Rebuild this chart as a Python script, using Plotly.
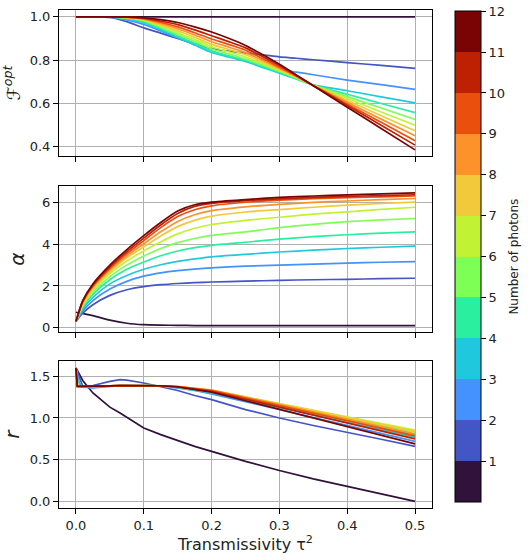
import plotly.graph_objects as go

# ---------------- data ----------------
N_PHOTONS = list(range(1, 13))
COLORS = ["#30123b", "#4455c5", "#4392fe", "#20c8de", "#2aef9f", "#7eff55",
          "#c2f234", "#f2c93a", "#fe922a", "#ea4f0d", "#be2102", "#7a0403"]

X_F = [0, 0.025, 0.05, 0.075, 0.1, 0.125, 0.15, 0.175, 0.2, 0.225, 0.25, 0.275,
       0.3, 0.325, 0.35, 0.4, 0.45, 0.5]
F_OPT = [
    [1, 1, 1, 1, 1, 1, 1, 1, 1, 1, 1, 1, 1, 1, 1, 1, 1, 1],
    [1, 1, 0.997, 0.978, 0.949, 0.925, 0.900, 0.876, 0.853, 0.842, 0.833, 0.825, 0.815, 0.809, 0.802, 0.789, 0.776, 0.762],
    [1, 1, 0.999, 0.986, 0.965, 0.935, 0.903, 0.872, 0.842, 0.818, 0.797, 0.776, 0.757, 0.745, 0.733, 0.708, 0.687, 0.665],
    [1, 1, 1, 0.990, 0.973, 0.940, 0.905, 0.870, 0.836, 0.815, 0.794, 0.767, 0.740, 0.713, 0.686, 0.659, 0.631, 0.603],
    [1, 1, 1, 0.993, 0.978, 0.946, 0.912, 0.878, 0.842, 0.820, 0.800, 0.772, 0.743, 0.714, 0.685, 0.643, 0.600, 0.558],
    [1, 1, 1, 0.995, 0.982, 0.952, 0.920, 0.887, 0.852, 0.829, 0.805, 0.778, 0.749, 0.718, 0.685, 0.632, 0.579, 0.526],
    [1, 1, 1, 0.996, 0.985, 0.958, 0.928, 0.896, 0.862, 0.839, 0.815, 0.785, 0.753, 0.720, 0.684, 0.623, 0.561, 0.500],
    [1, 1, 1, 0.997, 0.988, 0.963, 0.936, 0.906, 0.873, 0.850, 0.825, 0.792, 0.758, 0.722, 0.684, 0.614, 0.544, 0.474],
    [1, 1, 1, 0.998, 0.990, 0.970, 0.945, 0.916, 0.885, 0.861, 0.835, 0.800, 0.763, 0.725, 0.683, 0.606, 0.528, 0.451],
    [1, 1, 1, 0.999, 0.992, 0.975, 0.954, 0.927, 0.898, 0.873, 0.846, 0.808, 0.768, 0.727, 0.683, 0.598, 0.513, 0.428],
    [1, 1, 1, 0.999, 0.994, 0.981, 0.964, 0.940, 0.913, 0.886, 0.857, 0.817, 0.775, 0.729, 0.682, 0.591, 0.500, 0.408],
    [1, 1, 1, 1.000, 0.996, 0.987, 0.974, 0.954, 0.930, 0.901, 0.868, 0.826, 0.781, 0.732, 0.682, 0.583, 0.485, 0.386],
]

X_ALPHA = [0, 0.01, 0.025, 0.05, 0.075, 0.1, 0.125, 0.15, 0.175, 0.2, 0.25, 0.3, 0.35, 0.4, 0.45, 0.5]
ALPHA = [
    [0.74, 0.68, 0.58, 0.36, 0.21, 0.14, 0.12, 0.11, 0.10, 0.10, 0.10, 0.10, 0.10, 0.10, 0.10, 0.10],
    [0.3, 0.70, 1.10, 1.55, 1.82, 1.97, 2.06, 2.12, 2.16, 2.19, 2.23, 2.27, 2.30, 2.32, 2.35, 2.37],
    [0.3, 0.80, 1.30, 1.85, 2.22, 2.47, 2.63, 2.74, 2.81, 2.87, 2.95, 3.00, 3.05, 3.10, 3.14, 3.17],
    [0.3, 0.90, 1.45, 2.10, 2.50, 2.80, 3.02, 3.18, 3.30, 3.40, 3.52, 3.63, 3.72, 3.80, 3.86, 3.91],
    [0.3, 1.00, 1.60, 2.30, 2.80, 3.15, 3.45, 3.68, 3.84, 3.95, 4.10, 4.25, 4.37, 4.46, 4.54, 4.60],
    [0.3, 1.05, 1.70, 2.45, 3.00, 3.44, 3.80, 4.08, 4.28, 4.43, 4.60, 4.80, 4.96, 5.09, 5.17, 5.24],
    [0.3, 1.10, 1.80, 2.60, 3.20, 3.68, 4.12, 4.50, 4.77, 4.95, 5.15, 5.30, 5.45, 5.56, 5.68, 5.78],
    [0.3, 1.15, 1.90, 2.70, 3.35, 3.88, 4.40, 4.85, 5.15, 5.35, 5.55, 5.67, 5.78, 5.88, 5.96, 6.03],
    [0.3, 1.20, 1.95, 2.78, 3.45, 4.03, 4.60, 5.10, 5.42, 5.62, 5.80, 5.92, 6.01, 6.08, 6.15, 6.20],
    [0.3, 1.25, 2.00, 2.85, 3.55, 4.18, 4.80, 5.33, 5.66, 5.85, 6.02, 6.12, 6.19, 6.24, 6.28, 6.32],
    [0.3, 1.28, 2.05, 2.92, 3.65, 4.30, 4.93, 5.48, 5.82, 5.97, 6.10, 6.18, 6.25, 6.30, 6.34, 6.38],
    [0.3, 1.30, 2.10, 3.00, 3.75, 4.42, 5.05, 5.60, 5.90, 6.03, 6.15, 6.25, 6.32, 6.37, 6.42, 6.47],
]

X_R = [0, 0.002, 0.005, 0.01, 0.025, 0.05, 0.065, 0.075, 0.1, 0.125, 0.15, 0.175, 0.2,
       0.25, 0.3, 0.35, 0.4, 0.45, 0.5]
R_VALS = [
    [1.60, 1.57, 1.52, 1.45, 1.30, 1.13, 1.06, 1.01, 0.88, 0.80, 0.73, 0.66, 0.60, 0.48, 0.37, 0.27, 0.18, 0.09, 0.00],
    [1.60, 1.56, 1.48, 1.38, 1.39, 1.44, 1.46, 1.455, 1.42, 1.375, 1.33, 1.27, 1.22, 1.10, 1.00, 0.91, 0.83, 0.745, 0.66],
    [1.60, 1.52, 1.42, 1.37, 1.36, 1.38, 1.39, 1.39, 1.39, 1.385, 1.36, 1.33, 1.29, 1.195, 1.10, 1.005, 0.91, 0.815, 0.72],
    [1.60, 1.48, 1.40, 1.37, 1.37, 1.385, 1.39, 1.39, 1.39, 1.385, 1.365, 1.335, 1.30, 1.212, 1.123, 1.035, 0.947, 0.858, 0.77],
    [1.60, 1.45, 1.38, 1.375, 1.38, 1.385, 1.39, 1.39, 1.39, 1.385, 1.37, 1.34, 1.31, 1.225, 1.14, 1.055, 0.97, 0.885, 0.80],
    [1.60, 1.42, 1.38, 1.38, 1.385, 1.385, 1.39, 1.39, 1.39, 1.385, 1.372, 1.35, 1.32, 1.238, 1.157, 1.075, 0.993, 0.912, 0.83],
    [1.60, 1.40, 1.38, 1.38, 1.385, 1.385, 1.39, 1.39, 1.39, 1.387, 1.375, 1.355, 1.33, 1.251, 1.172, 1.093, 1.013, 0.934, 0.855],
    [1.60, 1.39, 1.38, 1.38, 1.385, 1.385, 1.39, 1.39, 1.39, 1.387, 1.377, 1.358, 1.335, 1.253, 1.17, 1.088, 1.005, 0.923, 0.84],
    [1.60, 1.385, 1.38, 1.38, 1.385, 1.385, 1.39, 1.39, 1.39, 1.387, 1.377, 1.358, 1.335, 1.248, 1.16, 1.073, 0.985, 0.898, 0.81],
    [1.60, 1.38, 1.38, 1.38, 1.385, 1.385, 1.39, 1.39, 1.39, 1.387, 1.377, 1.355, 1.33, 1.239, 1.148, 1.058, 0.967, 0.876, 0.785],
    [1.60, 1.38, 1.38, 1.38, 1.385, 1.385, 1.39, 1.39, 1.39, 1.387, 1.375, 1.35, 1.32, 1.225, 1.13, 1.035, 0.94, 0.845, 0.75],
    [1.60, 1.38, 1.38, 1.38, 1.385, 1.385, 1.39, 1.39, 1.39, 1.387, 1.372, 1.345, 1.31, 1.207, 1.103, 1.00, 0.897, 0.793, 0.69],
]

X_TICKS = [0.0, 0.1, 0.2, 0.3, 0.4, 0.5]

# ---------------- figure ----------------
W, H = 528, 560
FONT = "DejaVu Sans"
fig = go.Figure()

panels = [
    (X_F, F_OPT, "x", "y", "spline"),
    (X_ALPHA, ALPHA, "x2", "y2", "spline"),
    (X_R, R_VALS, "x3", "y3", "linear"),
]
for xs, rows, xa, ya, shape in panels:
    for n, row, col in zip(N_PHOTONS, rows, COLORS):
        fig.add_trace(go.Scatter(
            x=xs, y=row, mode="lines", xaxis=xa, yaxis=ya,
            line=dict(color=col, width=1.7, shape=shape,
                      smoothing=0.6 if shape == "spline" else None),
            showlegend=False, hoverinfo="skip", name=f"N={n}"))

# discrete colour bar
scale = []
for i, c in enumerate(COLORS):
    scale.append([i / 12, c])
    scale.append([(i + 1) / 12, c])
fig.add_trace(go.Scatter(
    x=[None], y=[None], mode="markers", showlegend=False, hoverinfo="skip",
    marker=dict(color=[0], cmin=0, cmax=12, colorscale=scale, showscale=True,
                colorbar=dict(
                    thickness=26, thicknessmode="pixels",
                    len=494 / H, lenmode="fraction",
                    x=455 / W, xanchor="left", xpad=0,
                    y=1 - 258 / H, yanchor="middle", ypad=0,
                    outlinewidth=1, outlinecolor="black",
                    tickvals=N_PHOTONS, ticktext=[str(n) for n in N_PHOTONS],
                    ticks="outside", ticklen=5, tickcolor="black",
                    tickfont=dict(family=FONT, size=13, color="#222"),
                ))))

fig.add_annotation(text="Number of photons", xref="paper", yref="paper",
                   x=514 / W, y=1 - 258 / H, xanchor="center", yanchor="middle",
                   textangle=-90, showarrow=False,
                   font=dict(family=FONT, size=12, color="#222"))

xdom = [59 / W, 432 / W]
def ydom(top, bot):
    return [1 - bot / H, 1 - top / H]

axis_common = dict(showline=True, mirror=True, linecolor="black", linewidth=1,
                   showgrid=True, gridcolor="#b0b0b0", gridwidth=1, zeroline=False,
                   ticks="outside", ticklen=5, tickcolor="black",
                   tickfont=dict(family=FONT, size=13, color="#222"))

for i, (top, bot) in enumerate([(10, 157), (187, 334), (363, 511)], start=1):
    sfx = "" if i == 1 else str(i)
    fig.layout["xaxis" + sfx] = dict(
        domain=xdom, anchor="y" + sfx, range=[-0.025, 0.525],
        tickvals=X_TICKS, ticktext=[f"{v:.1f}" for v in X_TICKS],
        showticklabels=(i == 3), **axis_common)
    fig.layout["yaxis" + sfx] = dict(domain=ydom(top, bot), anchor="x" + sfx, **axis_common)

fig.layout.xaxis3.title = dict(text="Transmissivity τ<sup>2</sup>",
                               font=dict(family=FONT, size=16, color="#222"), standoff=4)
fig.layout.yaxis.update(range=[0.357, 1.032], tickvals=[0.4, 0.6, 0.8, 1.0],
                        ticktext=["0.4", "0.6", "0.8", "1.0"],
                        title=dict(text="<i>ℱ</i><sup><i>opt</i></sup>",
                                   font=dict(family=FONT, size=18, color="#222"), standoff=6))
fig.layout.yaxis2.update(range=[-0.22, 6.8], tickvals=[0, 2, 4, 6],
                         title=dict(text="<i>α</i>",
                                    font=dict(family=FONT, size=20, color="#222"), standoff=12))
fig.layout.yaxis3.update(range=[-0.083, 1.683], tickvals=[0.0, 0.5, 1.0, 1.5],
                         ticktext=["0.0", "0.5", "1.0", "1.5"],
                         title=dict(text="<i>r</i>",
                                    font=dict(family=FONT, size=20, color="#222"), standoff=8))

fig.update_layout(width=W, height=H, margin=dict(l=0, r=0, t=0, b=0),
                  paper_bgcolor="white", plot_bgcolor="white",
                  font=dict(family=FONT, color="#222"))
fig.write_html("out.html")
